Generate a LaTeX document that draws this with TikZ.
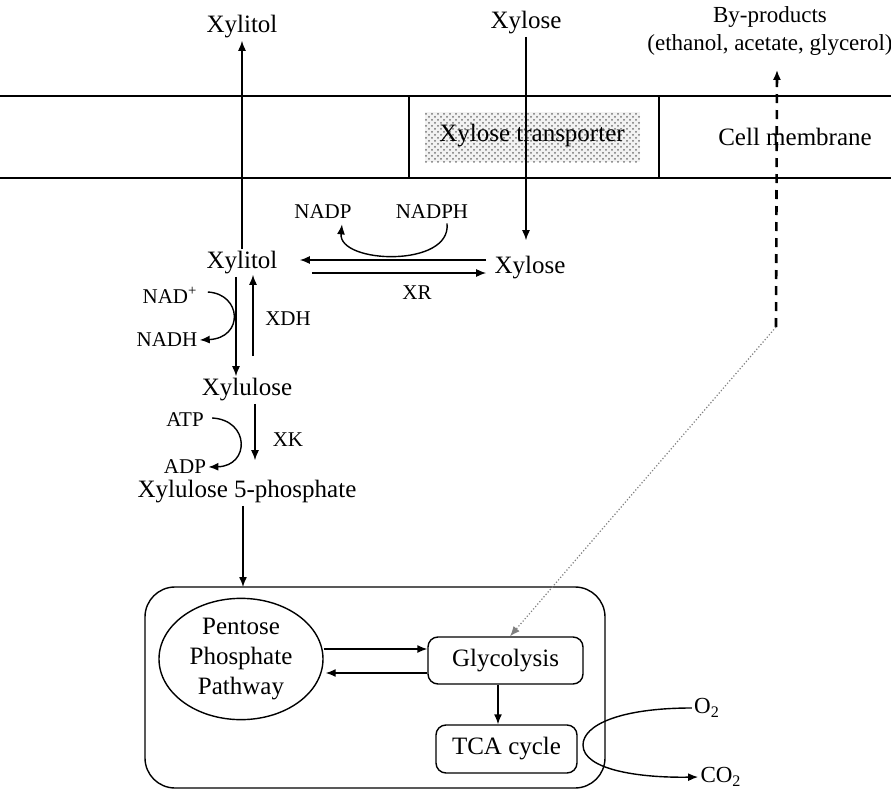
\documentclass[tikz,border=0pt]{standalone}
\usepackage{fontspec}
\setmainfont{Liberation Serif}
\usetikzlibrary{arrows.meta,patterns,calc,shapes.geometric}
\begin{document}
\begin{tikzpicture}[x=0.5pt,y=-0.5pt,
 big/.style={font=\fontsize{12.5}{15}\selectfont, inner sep=1pt},
 small/.style={font=\fontsize{10.5}{12}\selectfont, inner sep=1pt},
 arr/.style={-{Latex[length=5pt,width=4pt]}, line width=0.7pt},
 ln/.style={line width=0.7pt},
 boxn/.style={draw, line width=0.7pt, rounded corners=5pt, minimum width=77.5pt, minimum height=23.5pt, big}
]
\useasboundingbox (0,0) rectangle (891,798);

% membrane
\draw[ln] (0,96) -- (891,96);
\draw[ln] (0,178) -- (891,178);
\draw[ln] (409,96) -- (409,178);
\draw[ln] (659,96) -- (659,178);
\fill[gray!10] (425,112) rectangle (640,162);
\fill[pattern=crosshatch dots, pattern color=black!55] (425,112) rectangle (640,162);
\node[big] (trtext) at (532,136) {Xylose transporter};
\node[big] (cellmem) at (795,137) {Cell membrane};

% top labels
\node[big] (xylitolTop) at (242,27) {Xylitol};
\node[big] (xyloseTop) at (526,23) {Xylose};
\node[font=\fontsize{11.5}{14}\selectfont, inner sep=1pt, align=center] (byprod) at (770,31) {By-products\\(ethanol, acetate, glycerol)};

% middle
\node[big] (xylitol) at (242,263) {Xylitol};
\node[big] (xylose) at (530,268) {Xylose};
\node[small] (nadp) at (323,212) {NADP};
\node[small] (nadph) at (432,212) {NADPH};
\node[small] (xr) at (417,293) {XR};
\node[small] (nad) at (170,295) {NAD\textsuperscript{+}};
\node[small] (nadh) at (167,340) {NADH};
\node[small] (xdh) at (288,319) {XDH};
\node[big] (xylulose) at (247,390) {Xylulose};
\node[small] (atp) at (185,420) {ATP};
\node[small] (adp) at (185,467) {ADP};
\node[small] (xk) at (288,440) {XK};
\node[big] (x5p) at (247,492) {Xylulose 5-phosphate};

% lower box
\draw[ln, rounded corners=15pt] (145,587) rectangle (605,788);
\coordinate (boxtop) at (243,587);
\node[draw, ellipse, ln, minimum width=82pt, minimum height=59pt, inner sep=0pt, big, align=center] (ppp) at (241,659) {Pentose\\Phosphate\\Pathway};
\node[boxn] (glyc) at (505.5,660.5) {Glycolysis};
\node[boxn, minimum width=70.5pt, minimum height=24pt] (tca) at (506.5,749) {TCA cycle};
\node[font=\fontsize{11.5}{13}\selectfont, inner sep=1pt] (o2) at (707,708) {O\textsubscript{2}};
\node[font=\fontsize{11.5}{13}\selectfont, inner sep=1pt] (co2) at (721,777) {CO\textsubscript{2}};

% connectors
\draw[arr] (xyloseTop.south) -- ($(xyloseTop.south |- xylose.north)+(0,-14)$);
\draw[arr] (xylitol.north) -- (xylitolTop.south);
\draw[arr] ($(xylose.west)+(-6,-8)$) -- ($(xylitol.east)+(20,-3)$);
\draw[arr] ($(xylitol.east)+(32,10)$) -- ($(xylose.west)+(-6,5)$);
\draw[arr] ($(nadph.south)+(15,2)$) .. controls (452,268) and (338,264) .. ($(nadp.south)+(19,3)$);
\draw[arr] ($(xylitol.south)+(-6,0)$) -- ($(xylulose.north)+(-11,0)$);
\draw[arr] ($(xylulose.north)+(6,-20)$) -- ($(xylitol.south)+(11,-2)$);
\draw[arr] ($(nad.east)+(8,-3)$) .. controls (242,294) and (244,338) .. (nadh.east);
\draw[arr] ($(xylulose.south)+(8,0)$) -- ($(x5p.north)+(8,-18)$);
\draw[arr] ($(atp.east)+(6,-2)$) .. controls (250,420) and (250,466) .. (adp.east);
\draw[arr] ($(x5p.south)+(-4,0)$) -- (boxtop);
\draw[arr] ($(ppp.east)+(0,-10)$) -- ($(glyc.west)+(0,-11.5)$);
\draw[arr] ($(glyc.west)+(0,12.5)$) -- ($(ppp.east)+(2,14)$);
\draw[arr] ($(glyc.south)+(-7.5,0)$) -- ($(tca.north)+(-8.5,0)$);
\coordinate (bend) at (776,327);
\draw[-{Latex[length=5pt,width=4pt]}, line width=1.3pt, dash pattern=on 4.5pt off 3.5pt] (bend) -- ($(byprod.south)+(7,12)$);
\draw[-{Latex[length=5pt,width=4pt]}, line width=0.6pt, gray, densely dotted] (bend) -- ($(glyc.north)+(4.5,0)$);
\draw[arr] (o2.west) .. controls (620,708) and (583,725) .. (583,745) .. controls (583,770) and (640,778) .. (co2.west);
\end{tikzpicture}
\end{document}
